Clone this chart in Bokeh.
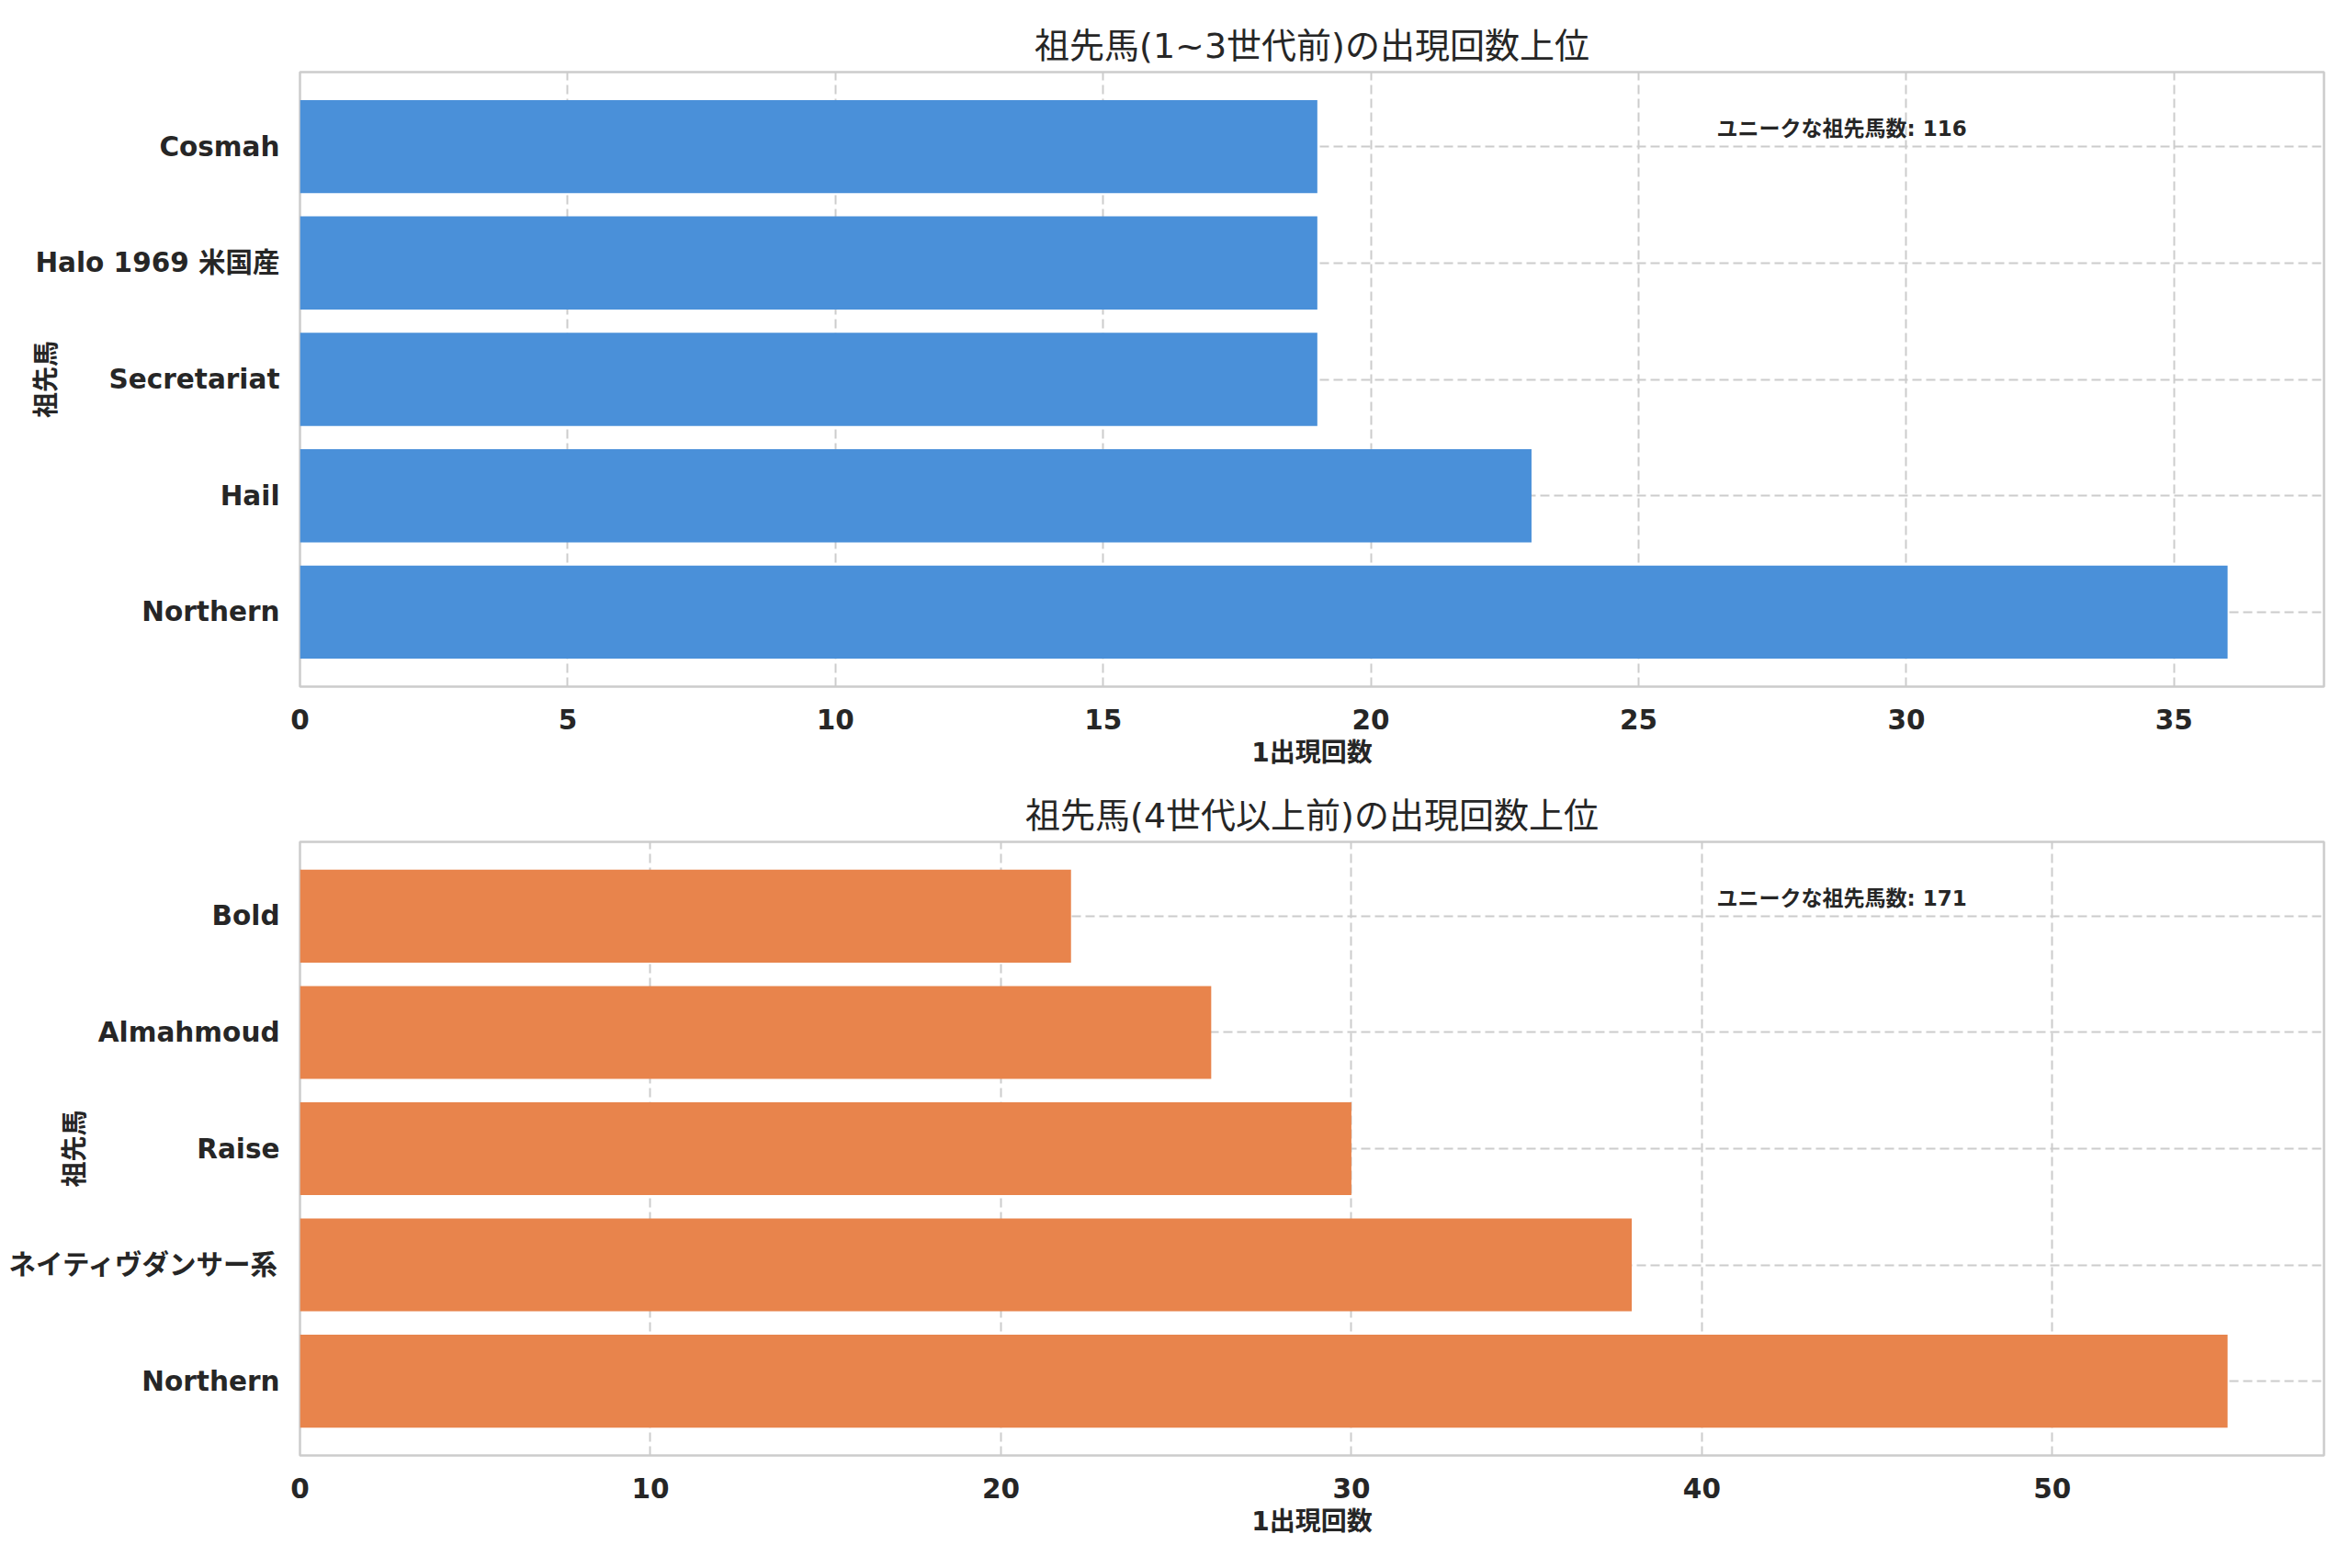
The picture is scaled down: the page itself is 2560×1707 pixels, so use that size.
from bokeh.plotting import figure
from bokeh.models import FactorRange, Range1d, SingleIntervalTicker, Label, ColumnDataSource
from bokeh.layouts import column
from bokeh.embed import file_html
from bokeh.resources import INLINE

# ---- data ----
title_top = "祖先馬(1~3世代前)の出現回数上位"
title_bottom = "祖先馬(4世代以上前)の出現回数上位"
y_label = "祖先馬"
x_label = "1出現回数"

names_top = ["Cosmah", "Halo 1969 米国産", "Secretariat", "Hail", "Northern"]
counts_top = [19, 19, 19, 23, 36]
unique_top = 116

names_bottom = ["Bold", "Almahmoud", "Raise", "ネイティヴダンサー系", "Northern"]
counts_bottom = [22, 26, 30, 38, 55]
unique_bottom = 171

note_prefix = "ユニークな祖先馬数"

color_top = "#4A90D9"
color_bottom = "#E8844C"

FONT = "'DejaVu Sans', 'Noto Sans CJK JP'"
TEXT = "#262626"
GRID = "#cccccc"
WIDTH = 2540
BORDER_L = 326
BORDER_R = 11


def make_panel(title, names, counts, unique, color, tick_interval, ylab_standoff, height, frame_h):
    factors = list(reversed(names))  # first factor sits at the bottom
    vals = list(reversed(counts))
    xmax = max(counts) * 1.05
    yr = FactorRange(factors=factors, range_padding=0.056)
    p = figure(
        width=WIDTH, height=height,
        y_range=yr, x_range=Range1d(0, xmax),
        output_backend="svg", toolbar_location=None,
        min_border_left=BORDER_L, min_border_right=BORDER_R,
        min_border_top=78, min_border_bottom=height - 78 - frame_h,
        background_fill_color="white", border_fill_color="white",
    )
    src = ColumnDataSource(dict(name=factors, value=vals))
    p.hbar(y="name", right="value", left=0, height=0.8, source=src,
           fill_color=color, line_color=None)

    p.title.text = title
    p.title.align = "center"
    p.title.text_font = FONT
    p.title.text_font_size = "38px"
    p.title.text_font_style = "normal"
    p.title.text_color = TEXT
    p.title.standoff = 14

    p.outline_line_color = GRID
    p.outline_line_width = 2.5

    for ax in (p.xaxis, p.yaxis):
        ax.axis_line_color = None
        ax.major_tick_line_color = None
        ax.minor_tick_line_color = None
        ax.major_tick_out = 0
        ax.major_tick_in = 0
        ax.major_label_text_font = FONT
        ax.major_label_text_font_style = "bold"
        ax.major_label_text_font_size = "29.5px"
        ax.major_label_text_color = TEXT
        ax.axis_label_text_font = FONT
        ax.axis_label_text_font_style = "bold"
        ax.axis_label_text_font_size = "28px"
        ax.axis_label_text_color = TEXT

    p.xaxis.ticker = SingleIntervalTicker(interval=tick_interval)
    p.xaxis.axis_label = x_label
    p.xaxis.major_label_standoff = 20
    p.xaxis.axis_label_standoff = 6
    p.yaxis.major_label_standoff = 22
    p.yaxis.axis_label = y_label
    p.yaxis.axis_label_standoff = ylab_standoff

    p.xgrid.grid_line_color = GRID
    p.xgrid.grid_line_width = 2
    p.xgrid.grid_line_dash = "10 5"
    p.ygrid.grid_line_color = GRID
    p.ygrid.grid_line_width = 2
    p.ygrid.grid_line_dash = "10 5"

    n = len(factors)
    pad = 0.056 * n / 2
    y_top = n + pad - 0.072 * (n + 2 * pad)
    lab = Label(x=0.7 * xmax, y=y_top, text=f"{note_prefix}: {unique}",
                text_font=FONT, text_font_style="bold", text_font_size="23px",
                text_color=TEXT, text_baseline="top", text_align="left")
    p.add_layout(lab)
    return p


p1 = make_panel(title_top, names_top, counts_top, unique_top, color_top, 5, -32, 838, 669)
p2 = make_panel(title_bottom, names_bottom, counts_bottom, unique_bottom, color_bottom, 10, -92, 837, 668)

layout = column(p1, p2, spacing=0)
open("out.html", "w").write(file_html(layout, INLINE))
